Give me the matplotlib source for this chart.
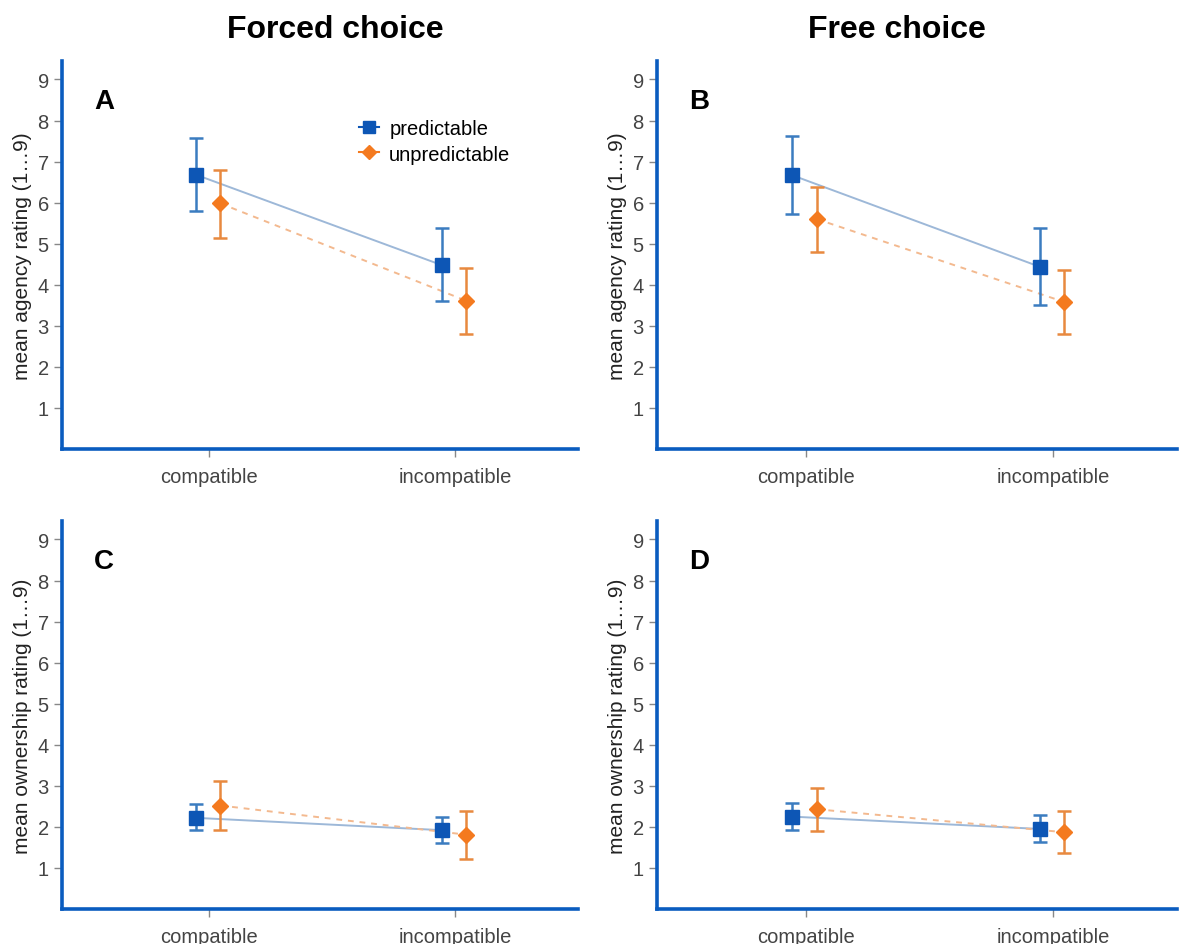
import numpy as np
import matplotlib.pyplot as plt
from matplotlib.lines import Line2D

plt.rcParams['font.family'] = ['Liberation Sans', 'DejaVu Sans']

conditions = ['compatible', 'incompatible']
series = ['predictable', 'unpredictable']

# mean and error bar limits, [compatible, incompatible]
agency_forced_pred = [6.68, 4.48]
agency_forced_pred_lo = [5.80, 3.61]
agency_forced_pred_hi = [7.58, 5.38]
agency_forced_unpred = [5.98, 3.61]
agency_forced_unpred_lo = [5.15, 2.79]
agency_forced_unpred_hi = [6.80, 4.42]

agency_free_pred = [6.67, 4.44]
agency_free_pred_lo = [5.73, 3.50]
agency_free_pred_hi = [7.62, 5.38]
agency_free_unpred = [5.60, 3.58]
agency_free_unpred_lo = [4.81, 2.79]
agency_free_unpred_hi = [6.39, 4.35]

owner_forced_pred = [2.22, 1.92]
owner_forced_pred_lo = [1.92, 1.61]
owner_forced_pred_hi = [2.56, 2.24]
owner_forced_unpred = [2.52, 1.81]
owner_forced_unpred_lo = [1.92, 1.21]
owner_forced_unpred_hi = [3.12, 2.38]

owner_free_pred = [2.25, 1.95]
owner_free_pred_lo = [1.92, 1.64]
owner_free_pred_hi = [2.58, 2.28]
owner_free_unpred = [2.43, 1.87]
owner_free_unpred_lo = [1.90, 1.37]
owner_free_unpred_hi = [2.95, 2.38]

spine_col = '#0a5cbf'
blue = '#0d56b5'
blue_err = '#3b7cc0'
blue_line = '#9db8d8'
orange = '#f47a1f'
orange_err = '#e8893f'
orange_line = '#f3b98f'

W, H = 1181, 945
fig = plt.figure(figsize=(W / 100, H / 100), dpi=100)

def add_ax(l, r, t, b):
    return fig.add_axes([l / W, (H - b) / H, (r - l) / W, (b - t) / H])

def panel(ax, letter, ylabel, pred, pred_lo, pred_hi, unpred, unpred_lo, unpred_hi, legend=False):
    x = np.arange(1, 3)
    xp = x - 0.055
    xu = x + 0.045
    pred = np.array(pred)
    unpred = np.array(unpred)
    ax.plot(xp, pred, color=blue_line, lw=1.4, zorder=1)
    ax.plot(xu, unpred, color=orange_line, lw=1.4, ls=(0, (3, 3)), zorder=1)
    ax.errorbar(xp, pred, yerr=[pred - np.array(pred_lo), np.array(pred_hi) - pred],
                fmt='none', ecolor=blue_err, elinewidth=1.8, capsize=5, capthick=1.8, zorder=2)
    ax.errorbar(xu, unpred, yerr=[unpred - np.array(unpred_lo), np.array(unpred_hi) - unpred],
                fmt='none', ecolor=orange_err, elinewidth=1.8, capsize=5, capthick=1.8, zorder=2)
    ax.plot(xp, pred, 's', color=blue, ms=9.5, zorder=3)
    ax.plot(xu, unpred, 'D', color=orange, ms=8, zorder=3)

    ax.set_xlim(0.4, 2.5)
    ax.set_ylim(0, 9.45)
    ax.set_xticks(x)
    ax.set_xticklabels(conditions)
    ax.set_yticks(range(1, 10))
    for s in ['top', 'right']:
        ax.spines[s].set_visible(False)
    for s in ['left', 'bottom']:
        ax.spines[s].set_color(spine_col)
        ax.spines[s].set_linewidth(2.6)
    ax.tick_params(axis='both', colors='#888888', labelcolor='#444444', labelsize=14.5,
                   length=6, width=1)
    ax.tick_params(axis='x', pad=7)
    ax.set_ylabel(ylabel, fontsize=15, color='#222222', labelpad=4)
    ax.text(0.062, 0.897, letter, transform=ax.transAxes, fontsize=20, fontweight='bold',
            va='center', ha='left')
    if legend:
        handles = [Line2D([], [], color=blue, marker='s', ms=9, lw=1.5),
                   Line2D([], [], color=orange, marker='D', ms=7.5, lw=1.5)]
        ax.legend(handles, series, loc='upper left', bbox_to_anchor=(0.56, 0.87),
                  frameon=False, fontsize=14.5, handlelength=1.0, handletextpad=0.5,
                  labelspacing=0.3, borderaxespad=0)

axA = add_ax(62, 578, 62, 450)
axB = add_ax(657, 1177, 62, 450)
axC = add_ax(62, 578, 522, 910)
axD = add_ax(657, 1177, 522, 910)

panel(axA, 'A', 'mean agency rating (1…9)', agency_forced_pred, agency_forced_pred_lo, agency_forced_pred_hi,
      agency_forced_unpred, agency_forced_unpred_lo, agency_forced_unpred_hi, legend=True)
panel(axB, 'B', 'mean agency rating (1…9)', agency_free_pred, agency_free_pred_lo, agency_free_pred_hi,
      agency_free_unpred, agency_free_unpred_lo, agency_free_unpred_hi)
panel(axC, 'C', 'mean ownership rating (1…9)', owner_forced_pred, owner_forced_pred_lo, owner_forced_pred_hi,
      owner_forced_unpred, owner_forced_unpred_lo, owner_forced_unpred_hi)
panel(axD, 'D', 'mean ownership rating (1…9)', owner_free_pred, owner_free_pred_lo, owner_free_pred_hi,
      owner_free_unpred, owner_free_unpred_lo, owner_free_unpred_hi)

fig.text(335 / W, 1 - 30 / H, 'Forced choice', fontsize=23, fontweight='bold', ha='center', va='center')
fig.text(897 / W, 1 - 30 / H, 'Free choice', fontsize=23, fontweight='bold', ha='center', va='center')

fig.savefig('out.png', dpi=100)
